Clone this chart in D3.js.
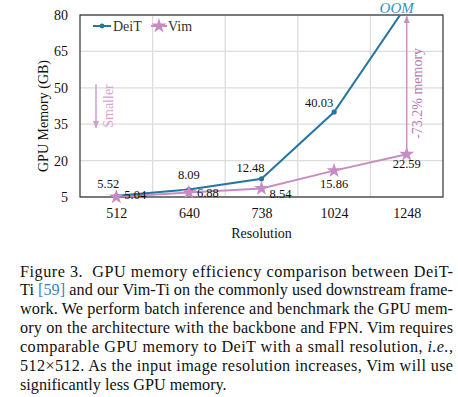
<!DOCTYPE html>
<html><head><meta charset="utf-8">
<script src="https://cdn.jsdelivr.net/npm/d3@7"></script>
<style>
html,body{margin:0;padding:0;background:#fff;}
svg{display:block;}
svg text{font-family:"Liberation Serif","Times New Roman",Times,"DejaVu Serif",serif;}
</style></head>
<body>
<svg id="c" width="458" height="397"></svg>
<script>
const resolutions = ["512","640","738","1024","1248"];
const deit = [5.52, 8.09, 12.48, 40.03, 84];   // last point is OOM (beyond axis)
const vim  = [5.04, 6.88, 8.54, 15.86, 22.59];
const yTicks = [5, 20, 35, 50, 65, 80];
const captionLines = [
  "Figure 3.  GPU memory efficiency comparison between DeiT-",
  "Ti [59] and our Vim-Ti on the commonly used downstream frame-",
  "work. We perform batch inference and benchmark the GPU mem-",
  "ory on the architecture with the backbone and FPN. Vim requires",
  "comparable GPU memory to DeiT with a small resolution, i.e.,",
  "512×512. As the input image resolution increases, Vim will use",
  "significantly less GPU memory."
];

const FF = "'Liberation Serif','Times New Roman',Times,serif";
const svg = d3.select("#c").attr("font-family", FF);
const L = 80, R = 443, T = 15, B = 197;
const x = d3.scalePoint().domain(resolutions).range([L, R]).padding(0.5);
const y = d3.scaleLinear().domain([5, 80]).range([B, T]);
const step = x.step();
const cDeit = "#2675a0", cVim = "#c88cc4";

// grid
const g = svg.append("g");
g.selectAll(".hg").data(yTicks).join("line")
  .attr("x1", L).attr("x2", R).attr("y1", d => y(d)).attr("y2", d => y(d))
  .attr("stroke", "#dcdcdc").attr("stroke-width", 1.3);
g.selectAll(".vg").data(resolutions.slice(1)).join("line")
  .attr("x1", d => x(d) - step / 2).attr("x2", d => x(d) - step / 2)
  .attr("y1", T).attr("y2", B)
  .attr("stroke", "#dcdcdc").attr("stroke-width", 1.3);

// axes
const yAxis = svg.append("g").attr("transform", `translate(${L},0)`)
  .call(d3.axisLeft(y).tickValues(yTicks).tickSize(0).tickPadding(12));
const xAxis = svg.append("g").attr("transform", `translate(0,${B})`)
  .call(d3.axisBottom(x).tickSize(0).tickPadding(11));
[yAxis, xAxis].forEach(a => {
  a.attr("font-family", FF).attr("font-size", 14);
  a.select(".domain").remove();
  a.selectAll("text").attr("font-family", FF).attr("font-size", 14).attr("fill", "#111");
});

// frame
svg.append("rect").attr("x", L).attr("y", T).attr("width", R - L).attr("height", B - T)
  .attr("fill", "none").attr("stroke", "#333").attr("stroke-width", 1.2);

// clip
svg.append("clipPath").attr("id", "clip").append("rect")
  .attr("x", L).attr("y", T).attr("width", R - L).attr("height", B - T);

const line = d3.line().x((d, i) => x(resolutions[i])).y(d => y(d));

svg.append("path").datum(vim).attr("d", line).attr("fill", "none")
  .attr("stroke", cVim).attr("stroke-width", 2).attr("clip-path", "url(#clip)");
svg.append("path").datum(deit).attr("d", line).attr("fill", "none")
  .attr("stroke", cDeit).attr("stroke-width", 2).attr("clip-path", "url(#clip)");

svg.selectAll(".dm").data(deit.slice(0, 4)).join("circle")
  .attr("cx", (d, i) => x(resolutions[i])).attr("cy", d => y(d)).attr("r", 2.6).attr("fill", cDeit);
const star = d3.symbol().type(d3.symbolStar).size(70);
svg.selectAll(".vm").data(vim).join("path")
  .attr("d", star).attr("transform", (d, i) => `translate(${x(resolutions[i])},${y(d)})`).attr("fill", cVim);

// arrows
const defs = svg.append("defs");
function marker(id, col) {
  defs.append("marker").attr("id", id).attr("viewBox", "0 0 10 10").attr("refX", 9).attr("refY", 5)
    .attr("markerWidth", 5).attr("markerHeight", 5).attr("orient", "auto")
    .append("path").attr("d", "M0,1 L10,5 L0,9 Z").attr("fill", col);
}
marker("ah1", "#d39cd0");
marker("ah2", "#c98fc6");

svg.append("line").attr("x1", 96).attr("x2", 96).attr("y1", y(51.5)).attr("y2", y(33.5))
  .attr("stroke", "#d39cd0").attr("stroke-width", 1.5).attr("marker-end", "url(#ah1)");
svg.append("text").attr("transform", `translate(113,${y(42.5)}) rotate(-90)`)
  .attr("text-anchor", "middle").attr("font-size", 14).attr("fill", "#d8a4d4").text("Smaller");

const xr = x("1248");
svg.append("line").attr("x1", xr).attr("x2", xr).attr("y1", y(vim[4])).attr("y2", y(79.5))
  .attr("stroke", "#c98fc6").attr("stroke-width", 1.5).attr("marker-end", "url(#ah2)");
svg.append("text").attr("transform", `translate(422,${y(47.7)}) rotate(-90)`)
  .attr("text-anchor", "middle").attr("font-size", 14).attr("fill", "#b77bb3").text("-73.2% memory");

svg.append("text").attr("x", xr - 10).attr("y", 12.5).attr("text-anchor", "middle")
  .attr("font-size", 15).attr("font-style", "italic").attr("fill", "#3a8fc0").text("OOM");

// data labels
const dOff = [[-8, -8], [0, -11], [-11, -7], [-15, -5]];
const vOff = [[8, 2], [8, 5], [8, 10], [0, 17], [0, 14]];
const lbl = svg.append("g").attr("font-size", 12.5).attr("fill", "#111");
lbl.selectAll(".dl").data(deit.slice(0, 4)).join("text")
  .attr("x", (d, i) => x(resolutions[i]) + dOff[i][0]).attr("y", (d, i) => y(d) + dOff[i][1])
  .attr("text-anchor", "middle").text(d => d.toFixed(2));
lbl.selectAll(".vl").data(vim).join("text")
  .attr("x", (d, i) => x(resolutions[i]) + vOff[i][0]).attr("y", (d, i) => y(d) + vOff[i][1])
  .attr("text-anchor", (d, i) => i < 3 ? "start" : "middle").text(d => d.toFixed(2));

// legend
const lg = svg.append("g").attr("font-size", 14).attr("fill", "#333");
lg.append("line").attr("x1", 93).attr("x2", 111).attr("y1", 26).attr("y2", 26).attr("stroke", cDeit).attr("stroke-width", 2);
lg.append("circle").attr("cx", 102).attr("cy", 26).attr("r", 2.4).attr("fill", cDeit);
lg.append("text").attr("x", 113).attr("y", 31).text("DeiT");
lg.append("line").attr("x1", 151).attr("x2", 167).attr("y1", 26).attr("y2", 26).attr("stroke", cVim).attr("stroke-width", 2);
lg.append("path").attr("d", star).attr("transform", "translate(159,26)").attr("fill", cVim);
lg.append("text").attr("x", 168).attr("y", 31).text("Vim");

svg.append("text").attr("transform", `translate(48,${(T + B) / 2 + 10}) rotate(-90)`)
  .attr("text-anchor", "middle").attr("font-size", 14).attr("fill", "#111").text("GPU Memory (GB)");
svg.append("text").attr("x", (L + R) / 2).attr("y", 238)
  .attr("text-anchor", "middle").attr("font-size", 14).attr("fill", "#111").text("Resolution");

// caption
const cap = svg.append("g").attr("font-size", 16.2).attr("fill", "#111");
captionLines.forEach((s, i) => {
  const t = cap.append("text").attr("x", 20).attr("y", 276.5 + i * 18.9).attr("xml:space", "preserve");
  if (i < captionLines.length - 1) t.attr("textLength", 433).attr("lengthAdjust", "spacing");
  if (s.includes("[59]")) {
    const [a, b] = s.split("[59]");
    t.append("tspan").text(a);
    t.append("tspan").attr("fill", "#3d7fc4").text("[59]");
    t.append("tspan").text(b);
  } else if (s.includes("i.e.,")) {
    const [a] = s.split("i.e.,");
    t.append("tspan").text(a);
    t.append("tspan").attr("font-style", "italic").text("i.e.,");
  } else {
    t.text(s);
  }
});
</script>
</body></html>
